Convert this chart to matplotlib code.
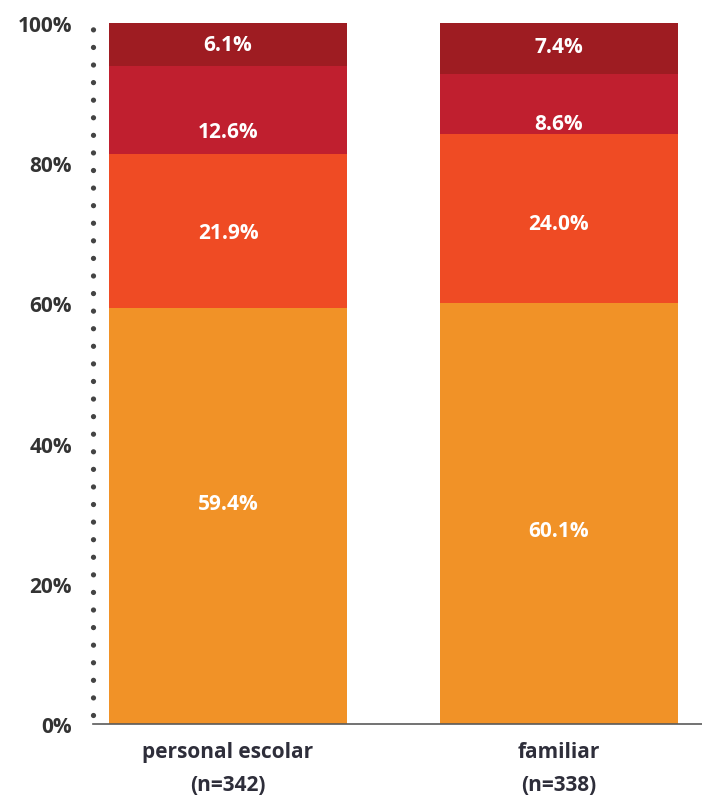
import matplotlib.pyplot as plt
import numpy as np

plt.rcParams['font.family'] = ['Open Sans', 'DejaVu Sans']

groups = ['personal escolar\n(n=342)', 'familiar\n(n=338)']
layers = [
    [59.4, 60.1],
    [21.9, 24.0],
    [12.6, 8.6],
    [6.1, 7.4],
]
colors = ['#F19227', '#EF4B24', '#C01F2F', '#9E1C22']
# where inside each segment the value label sits (0 = bottom, 1 = top)
label_pos = [
    [0.53, 0.46],
    [0.49, 0.47],
    [0.26, 0.19],
    [0.49, 0.53],
]
yticks = [0, 20, 40, 60, 80, 100]

fig = plt.figure(figsize=(7.02, 8.03), dpi=100)
ax = fig.add_axes([93 / 702, 78 / 803, 609 / 702, 701 / 803])

x = np.arange(len(groups))
bottom = np.zeros(len(groups))
for vals, col, fracs in zip(layers, colors, label_pos):
    vals = np.array(vals)
    ax.bar(x, vals, width=0.72, bottom=bottom, color=col, edgecolor='none')
    for xi, b, v, f in zip(x, bottom, vals, fracs):
        ax.text(xi, b + v * f, f'{v:.1f}%', ha='center', va='center',
                color='white', fontsize=15, fontweight='bold')
    bottom += vals

ax.set_xlim(-0.4085, 1.434)
ax.set_ylim(0, 100)
ax.set_yticks(yticks)
ax.set_yticklabels([f'{t}%' for t in yticks])
ax.set_xticks(x)
ax.set_xticklabels(groups, linespacing=1.75)

for lab in ax.get_yticklabels():
    lab.set_fontsize(15)
    lab.set_fontweight('bold')
    lab.set_color('#333333')
for lab in ax.get_xticklabels():
    lab.set_fontsize(15)
    lab.set_fontweight('bold')
    lab.set_color('#2e2e3a')

ax.tick_params(axis='y', length=0, pad=15)
ax.tick_params(axis='x', length=0, pad=12)

ax.spines['top'].set_visible(False)
ax.spines['right'].set_visible(False)
ax.spines['bottom'].set_color('#5a5a5a')
ax.spines['bottom'].set_linewidth(1.2)
left = ax.spines['left']
left.set_color('#444444')
left.set_linewidth(3.8)
left.set_linestyle((0, (0.001, 3.33)))
left.set_capstyle('round')
left.set_bounds(1.3, 100)

fig.savefig('out.png', dpi=100)
